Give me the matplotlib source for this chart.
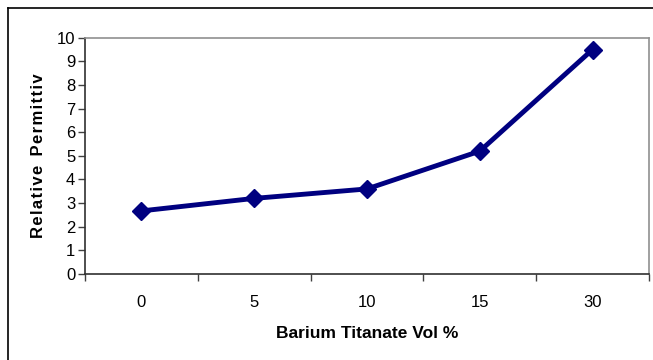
import numpy as np
import matplotlib
matplotlib.use('Agg')
import matplotlib.pyplot as plt
from matplotlib.lines import Line2D

plt.rcParams['font.family'] = ['Liberation Sans', 'DejaVu Sans']

# Barium titanate loading vs relative permittivity
vol_pct = ['0', '5', '10', '15', '30']
permittivity = [2.67, 3.2, 3.6, 5.2, 9.5]

fig = plt.figure(figsize=(6.53, 3.6), dpi=100)
ax = fig.add_axes([85/653, 1 - 274/360, (649 - 85)/653, (274 - 37.7)/360])

x = np.arange(len(vol_pct))
ax.plot(x, permittivity, color='#000080', linewidth=3.5, marker='D',
        markersize=9.5, markerfacecolor='#000080', markeredgecolor='#000080',
        clip_on=False, zorder=3)

ax.set_xlim(-0.5, len(vol_pct) - 0.5)
ax.set_ylim(0, 10)
ax.set_yticks(range(0, 11))
ax.tick_params(axis='y', direction='out', length=5, width=1, color='#404040',
               labelsize=12, pad=2)

# category boundaries carry the tick marks, centres carry the labels
ax.set_xticks(np.arange(-0.5, len(vol_pct), 1.0))
ax.set_xticklabels([])
ax.set_xticks(x, minor=True)
ax.set_xticklabels(vol_pct, minor=True)
ax.tick_params(axis='x', which='major', direction='out', length=5, width=1,
               color='#404040')
ax.tick_params(axis='x', which='minor', length=0, labelsize=12, pad=15)

for side in ['top', 'right']:
    ax.spines[side].set_color('#909090')
    ax.spines[side].set_linewidth(1.2)
for side in ['left', 'bottom']:
    ax.spines[side].set_color('#303030')
    ax.spines[side].set_linewidth(1.2)

ax.set_xlabel('Barium Titanate Vol %', fontsize=12.5, fontweight='bold', labelpad=12)

# slightly letter-spaced axis title
hair = '\u200a'
ylab = '  '.join(hair.join(word) for word in ['Relative', 'Permittiv'])
ax.set_ylabel(ylab, fontsize=12, fontweight='bold', labelpad=8)

# chart frame
fig.add_artist(Line2D([8/653, 1], [1 - 8/360, 1 - 8/360], color='black',
                      linewidth=1.2, transform=fig.transFigure))
fig.add_artist(Line2D([8/653, 8/653], [0, 1 - 8/360], color='black',
                      linewidth=1.2, transform=fig.transFigure))

fig.savefig('out.png', dpi=100)
